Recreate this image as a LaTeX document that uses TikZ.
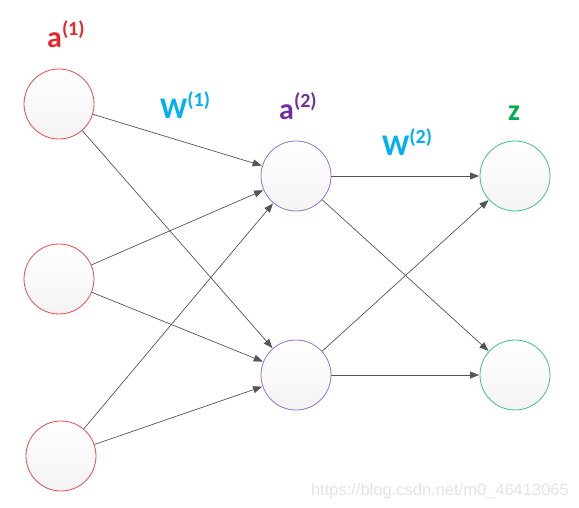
\documentclass[tikz,border=0pt]{standalone}
\usepackage{fontspec}
\setmainfont{Carlito}
\newfontfamily\wmfont{Liberation Sans}
\usetikzlibrary{arrows.meta}
\definecolor{cred}{HTML}{E8262A}
\definecolor{cpurple}{HTML}{7030A0}
\definecolor{cblue}{HTML}{00B0F0}
\definecolor{cgreen}{HTML}{00B050}
\definecolor{bred}{HTML}{E84A4A}
\definecolor{bpurple}{HTML}{9A70C8}
\definecolor{bgreen}{HTML}{40C080}
\definecolor{edgec}{HTML}{555555}
\newcommand{\lbl}[2]{\fontsize{30}{30}\selectfont\bfseries #1\raisebox{0.42em}{\fontsize{20}{20}\selectfont\bfseries (#2)}}
\tikzset{
  neuron/.style={circle, minimum size=70pt, inner sep=0pt, line width=0.8pt, top color=white, bottom color=gray!9},
  inl/.style={neuron, draw=bred},
  hid/.style={neuron, draw=bpurple},
  outl/.style={neuron, draw=bgreen},
  conn/.style={draw=edgec, line width=0.7pt, -{Triangle[length=9pt,width=7pt]}, shorten >=0.5pt},
  lab/.style={inner sep=0pt, anchor=base west}
}
\begin{document}
\begin{tikzpicture}[x=1pt,y=-1pt]
\useasboundingbox (0,0) rectangle (579,508);
\node[inl] (i1) at (59,104) {};
\node[inl] (i2) at (59,279) {};
\node[inl] (i3) at (61,456) {};
\node[hid] (h1) at (296,176) {};
\node[hid] (h2) at (296,375) {};
\node[outl] (o1) at (515,176) {};
\node[outl] (o2) at (515,375) {};
\foreach \i in {i1,i2,i3}{
  \foreach \h in {h1,h2}{
    \draw[conn] (\i) -- (\h);
  }
}
\foreach \h in {h1,h2}{
  \foreach \o in {o1,o2}{
    \draw[conn] (\h) -- (\o);
  }
}
\node[lab, text=cred] (la1) at (47,48) {\lbl{a}{1}};
\node[lab, text=cblue] (lw1) at (160,119) {\lbl{W}{1}};
\node[lab, text=cpurple] (la2) at (279,120) {\lbl{a}{2}};
\node[lab, text=cblue] (lw2) at (382,156) {\lbl{W}{2}};
\node[lab, text=cgreen] (lz) at (508,121) {\fontsize{30}{30}\selectfont\bfseries z};
\node[inner sep=0pt, anchor=base east, text=gray!22] (wm) at (569,495) {\wmfont\fontsize{16.5}{16.5}\selectfont https://blog.csdn.net/m0\_46413065};
\end{tikzpicture}
\end{document}
